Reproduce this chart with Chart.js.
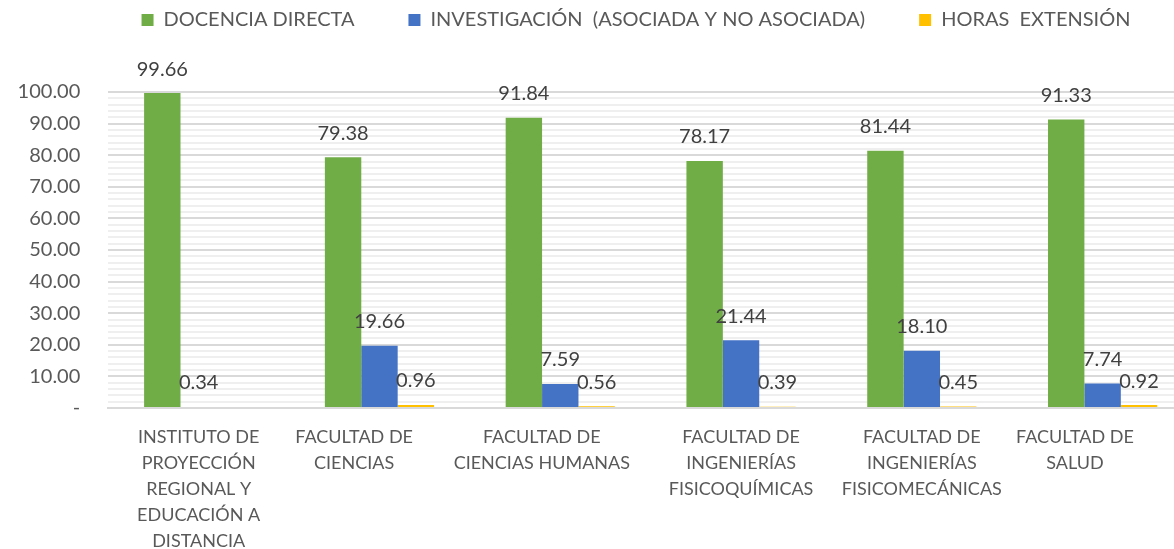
<!DOCTYPE html>
<html><head><meta charset="utf-8">
<script src="https://cdn.jsdelivr.net/npm/chart.js@4"></script>
<style>
html,body{margin:0;padding:0;overflow:hidden;background:#fff;width:1174px;height:549px}
#wrap{width:1174px;height:549px;overflow:hidden;position:relative}
#c{display:block;position:absolute;left:0;top:0}
</style>
</head><body>
<div id="wrap"><canvas id="c" width="1193" height="549" style="width:1193px;height:549px"></canvas></div>
<script>
const categories = [
  ["INSTITUTO DE","PROYECCIÓN","REGIONAL Y","EDUCACIÓN A","DISTANCIA"],
  ["FACULTAD DE","CIENCIAS"],
  ["FACULTAD DE","CIENCIAS HUMANAS"],
  ["FACULTAD DE","INGENIERÍAS","FISICOQUÍMICAS"],
  ["FACULTAD DE","INGENIERÍAS","FISICOMECÁNICAS"],
  ["FACULTAD DE","SALUD"]
];
const labelTrailingSpaces = [0, 11, 8, 0, 0, 12];
const seriesNames = ["DOCENCIA DIRECTA", "INVESTIGACIÓN  (ASOCIADA Y NO ASOCIADA)", "HORAS  EXTENSIÓN"];
const docencia = [99.66, 79.38, 91.84, 78.17, 81.44, 91.33];
const investigacion = [0.34, 19.66, 7.59, 21.44, 18.10, 7.74];
const extension = [0, 0.96, 0.56, 0.39, 0.45, 0.92];
const colors = ["#70AD47", "#4472C4", "#FFC000"];

const FONT = "Lato";

const axisLabels = categories.map((lines, i) =>
  lines.map(l => l + " ".repeat(labelTrailingSpaces[i])));

const dataLabels = {
  id: "dataLabels",
  afterDatasetsDraw(chart) {
    const ctx = chart.ctx;
    ctx.save();
    ctx.font = "20px " + FONT;
    ctx.fillStyle = "#404040";
    ctx.textAlign = "center";
    ctx.textBaseline = "middle";
    chart.data.datasets.forEach((ds, di) => {
      const meta = chart.getDatasetMeta(di);
      meta.data.forEach((el, i) => {
        const v = ds.data[i];
        if (!v) return;
        ctx.fillText(v.toFixed(2), el.x, el.y - 24);
      });
    });
    ctx.restore();
  }
};

const legendLayout = {
  id: "legendLayout",
  beforeInit(chart) {
    const lg = chart.legend;
    const fit = lg.fit;
    lg.fit = function () { fit.call(this); this.height = 92; };
  },
  afterLayout(chart) {
    const lg = chart.legend;
    const pad = lg.options.labels.padding;
    const dx = 636 - (lg.left + lg.right) / 2;
    lg.left += dx; lg.right += dx;
    const h = lg.height;
    lg.top = 10 - pad;
    lg.bottom = lg.top + h;
  }
};

function draw() {
  new Chart(document.getElementById("c"), {
    type: "bar",
    data: {
      labels: axisLabels,
      datasets: [
        { label: seriesNames[0], data: docencia, backgroundColor: colors[0] },
        { label: seriesNames[1], data: investigacion, backgroundColor: colors[1] },
        { label: seriesNames[2], data: extension, backgroundColor: colors[2] }
      ]
    },
    options: {
      responsive: false,
      animation: false,
      events: [],
      devicePixelRatio: 1,
      layout: { padding: 0 },
      datasets: { bar: { categoryPercentage: 0.604, barPercentage: 1 } },
      plugins: {
        tooltip: { enabled: false },
        legend: {
          position: "top",
          labels: {
            boxWidth: 12, boxHeight: 12, padding: 54,
            color: "#595959",
            font: { family: FONT, size: 20 }
          }
        }
      },
      scales: {
        x: {
          afterFit(s) { s.height = 141; s.paddingLeft = 0; s.paddingRight = 0; },
          grid: { display: false, drawTicks: false },
          border: { display: true, color: "#d9d9d9", width: 2 },
          ticks: {
            padding: 16, color: "#595959", autoSkip: false, maxRotation: 0, minRotation: 0,
            font: { family: FONT, size: 18, lineHeight: 26 / 18 }
          }
        },
        y: {
          min: 0, max: 100,
          afterFit(s) { s.width = 108.3; s.paddingTop = 0; s.paddingBottom = 0; },
          border: { display: false },
          grid: {
            drawTicks: false,
            lineWidth: 2,
            color: c => (c.tick && Math.round(c.tick.value) % 10 === 0) ? "#d9d9d9" : "#efefef"
          },
          ticks: {
            stepSize: 2, maxTicksLimit: 51, autoSkip: false, padding: 28,
            color: "#595959",
            font: { family: FONT, size: 20 },
            callback: v => v === 0 ? "-" : (Math.round(v) % 10 === 0 ? v.toFixed(2) : "")
          }
        }
      }
    },
    plugins: [legendLayout, dataLabels]
  });
}
if (document.fonts && document.fonts.load) {
  Promise.all([document.fonts.load("20px Lato"), document.fonts.load("18px Lato")]).then(draw, draw);
} else { draw(); }
</script>
</body></html>
